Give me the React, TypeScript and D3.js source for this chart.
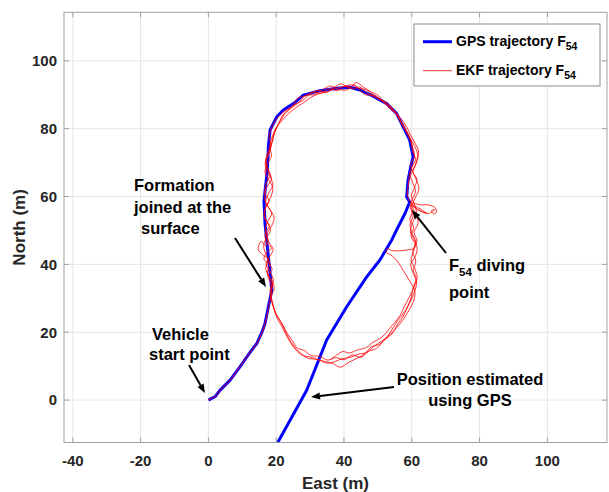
import React from "react";
import * as d3 from "d3";

const X_TICKS = [-40, -20, 0, 20, 40, 60, 80, 100];
const Y_TICKS = [0, 20, 40, 60, 80, 100];

// GPS trajectory F54 (East, North) in metres
const GPS_E = [0.06, 1.1, 2.0, 3.45, 6.4, 9.3, 12.3, 14.3, 15.8, 16.7, 17.7, 18.7, 18.2, 17.7, 17.2, 16.7, 16.4, 17.4, 17.7, 18.2, 20.2, 22.1, 25.1, 28.0, 32.9, 37.8, 41.8, 44.7, 48.6, 52.6, 55.5, 57.5, 59.4, 60.4, 59.7, 58.9, 58.5, 59.4, 58.0, 55.5, 54.1, 50.6, 46.7, 40.8, 34.9, 29.0, 20.5, 19.9];
const GPS_N = [0, 0.6, 1.0, 2.95, 5.9, 9.8, 14.1, 16.7, 20.0, 22.6, 27.5, 32.4, 37.3, 42.2, 47.2, 52.1, 58.9, 67.8, 74.7, 79.6, 83.5, 85.5, 87.4, 89.9, 91.2, 91.9, 92.2, 91.4, 89.6, 87.4, 84.5, 80.5, 76.6, 71.7, 68.8, 64.8, 59.9, 58.4, 55.0, 50.1, 47.2, 41.3, 36.3, 27.5, 17.7, 2.9, -12.4, -13.6];

// EKF trajectory F54 (East, North) in metres, read point by point
const EKF_E = [
  0, 1.2, 2.2, 3.5, 6.4, 9.3, 12.3, 14.4, 15.9, 16.8, 17.8, 18.6,
  18.4, 17.5, 18.8, 17.9, 16.4, 17.2, 18.6, 17.1, 16.8, 18.0, 16.6, 16.9, 17.9, 16.7, 17.3, 18.2, 17.0, 17.6, 18.5, 17.9, 18.7, 20.3, 22.5, 24.8, 26.2, 28.4, 30.9, 33.2, 35.6, 38.1, 40.4, 42.8, 44.6, 46.9, 49.2, 51.8, 53.6, 55.7, 56.9, 58.3, 59.8, 60.2, 61.1, 60.0, 59.3, 59.0, 58.7, 59.5,
  61.5, 63.4, 64.4, 66.8, 67.3, 66.4, 65.8, 66.8, 65.0, 62.6, 60.9, 59.6, 62.0, 64.4, 62.1, 59.8,
  60.2, 59.4, 60.6, 59.8, 60.9, 60.3, 61.2, 60.5, 61.3, 60.4, 59.9, 58.6, 57.4, 55.8, 54.2, 52.0, 49.6, 47.3, 45.0, 42.4, 40.1, 37.6, 35.2, 32.8, 30.4, 28.3, 26.2, 24.9, 23.3, 22.0, 20.6, 19.4, 18.7, 18.2,
  19.2, 18.1, 17.0, 18.3, 19.1, 18.0, 17.2, 18.6, 19.4, 18.1, 16.9, 17.8, 19.0, 18.3, 17.1, 16.8, 17.9, 18.6, 19.4, 20.6, 21.7, 23.3, 25.6, 27.9, 29.8, 32.4, 34.6, 36.9, 39.3, 41.4, 43.7, 45.5, 47.7, 50.2, 52.4, 54.6, 56.3, 57.8, 59.2, 60.6, 61.7, 61.2, 60.3, 61.5, 60.8, 59.9, 60.7,
  61.4, 60.3, 59.6, 60.8, 61.6, 60.9, 59.7, 60.5, 61.4, 60.8, 59.6, 58.2, 56.1, 54.5, 52.7, 50.4, 48.1, 45.9, 43.6, 41.2, 38.9, 36.7, 34.3, 31.7, 29.2, 27.1, 25.0, 23.6, 22.4, 21.1, 19.8, 19.0, 18.3,
  18.9, 18.0, 16.9, 17.6, 15.9, 14.7, 15.6, 16.9, 17.5, 16.8, 17.6, 18.7, 17.2, 16.5, 17.4, 18.6, 17.8, 16.9, 17.7, 18.9, 19.6, 21.2, 22.8, 24.5, 26.8, 28.7, 31.1, 33.8, 36.0, 38.4, 40.8, 43.1, 44.9, 46.3, 48.6, 51.1, 53.3, 55.2, 56.6, 58.0, 59.4, 60.3, 60.8, 59.7, 60.5, 61.6, 62.1, 61.0, 60.2,
  61.3, 61.9, 60.7, 61.5, 60.4, 58.8, 56.5, 54.0, 52.8, 52.5, 53.8, 55.4, 56.9, 58.3, 59.7, 60.9, 60.6, 59.3, 57.7, 55.6, 53.4, 51.3, 48.9, 46.6, 44.4, 41.9, 39.5, 37.2, 35.0, 32.5, 30.0, 27.8, 25.8, 24.2, 22.9, 21.6, 20.3, 19.3, 18.5,
  19.4, 18.6, 17.4, 18.1, 17.2, 16.3, 17.0, 18.3, 17.4, 16.4, 17.1, 18.4, 19.0, 17.9, 16.7, 17.5, 18.6, 18.1, 18.8, 20.0, 21.9, 23.8, 25.9, 28.0, 30.2, 32.6, 35.1, 37.5, 39.8, 42.2, 44.3, 46.2, 48.3, 50.6, 52.8, 54.9, 56.8, 58.5, 59.7, 60.9, 62.0, 61.6, 60.7, 59.6, 60.4, 61.1, 60.1, 59.6,
  60.4, 59.5, 60.1, 61.2, 60.6, 59.8, 60.9, 61.6, 60.7, 59.4, 57.9, 56.6, 54.8, 52.9, 50.9, 48.5, 46.4, 44.0, 41.6, 39.6, 37.8, 36.0,
];
const EKF_N = [
  0, 0.7, 1.2, 3.0, 5.9, 9.8, 14.1, 16.8, 20.1, 22.8, 27.6, 32.2,
  34.5, 36.8, 38.4, 40.2, 41.5, 43.6, 44.8, 46.5, 49.2, 51.4, 53.5, 56.8, 58.6, 61.2, 64.5, 66.3, 68.9, 72.4, 74.8, 77.6, 80.3, 83.1, 85.2, 86.6, 88.9, 89.6, 90.8, 90.4, 91.8, 91.2, 92.6, 91.7, 92.3, 90.4, 89.3, 87.8, 85.9, 84.1, 81.6, 79.2, 76.4, 73.5, 71.0, 68.6, 66.2, 63.5, 60.8, 58.5,
  57.8, 57.5, 57.6, 56.8, 55.4, 54.9, 55.8, 56.2, 55.0, 56.3, 57.2, 57.9, 56.1, 55.0, 55.9, 57.3,
  55.5, 53.2, 51.0, 48.4, 46.1, 43.5, 41.0, 38.2, 35.8, 33.1, 30.4, 27.2, 24.6, 22.3, 19.5, 17.8, 15.2, 14.4, 12.6, 13.3, 11.9, 12.5, 11.8, 12.9, 13.1, 14.6, 15.4, 17.3, 19.6, 22.1, 24.3, 26.8, 29.6, 32.5,
  35.3, 37.9, 40.1, 42.6, 44.5, 46.3, 48.9, 51.2, 53.9, 56.2, 58.4, 61.0, 63.2, 65.7, 67.6, 70.2, 72.6, 75.5, 78.4, 81.2, 83.6, 85.4, 87.2, 88.3, 90.1, 91.3, 90.6, 92.1, 93.2, 92.0, 93.6, 92.4, 91.0, 89.7, 87.1, 85.6, 82.9, 80.6, 77.8, 75.3, 72.5, 69.8, 67.4, 65.1, 62.6, 60.2, 57.9,
  55.0, 52.4, 49.7, 47.2, 44.6, 42.1, 40.0, 37.3, 34.8, 31.9, 29.1, 26.4, 23.8, 21.3, 18.6, 16.4, 15.7, 13.5, 12.2, 11.0, 9.7, 10.8, 11.4, 12.0, 12.4, 13.9, 16.2, 18.4, 20.9, 23.5, 25.6, 28.4, 31.2,
  33.8, 36.2, 38.7, 41.4, 42.9, 44.6, 46.8, 45.4, 47.6, 50.3, 52.8, 55.1, 57.6, 60.4, 63.0, 65.0, 67.8, 70.6, 73.5, 76.1, 79.2, 82.2, 84.7, 86.1, 87.9, 89.8, 90.0, 91.5, 92.6, 91.6, 91.4, 92.8, 91.1, 90.0, 89.8, 88.4, 86.6, 84.7, 82.2, 79.9, 77.0, 74.4, 71.8, 69.4, 66.8, 64.3, 62.0, 59.6, 57.1,
  54.6, 52.1, 49.5, 47.0, 44.6, 44.3, 44.0, 44.1, 44.6, 43.6, 42.8, 41.4, 39.2, 36.9, 34.6, 32.3, 29.4, 26.7, 24.1, 21.4, 19.2, 17.5, 15.9, 14.0, 13.6, 12.6, 12.2, 11.3, 10.9, 11.9, 12.7, 13.2, 14.8, 17.0, 19.3, 21.8, 24.1, 27.0, 30.2,
  33.0, 35.6, 37.4, 40.2, 42.5, 45.2, 47.7, 50.0, 52.4, 54.7, 57.3, 59.8, 62.4, 64.8, 67.2, 69.8, 72.0, 74.9, 77.5, 80.3, 82.6, 84.6, 86.3, 87.6, 89.2, 90.3, 90.9, 91.8, 92.4, 92.9, 91.9, 91.6, 90.3, 88.7, 87.5, 85.2, 83.0, 80.5, 78.0, 75.8, 73.4, 70.6, 68.3, 66.0, 63.8, 61.5, 59.0, 56.8,
  54.3, 51.8, 49.1, 46.7, 44.0, 41.3, 38.7, 36.1, 33.4, 30.6, 27.8, 25.0, 22.7, 20.4, 18.3, 17.0, 15.4, 14.8, 13.9, 14.3, 13.2, 12.0,
];

const W = 609;
const H = 492;
const L = 64, R = 607, T = 12.3, B = 442.5;
const FONT = "'Liberation Sans', Arial, Helvetica, sans-serif";
const AX = "#a0a0a0";
const TXT = "#262626";

export default function App() {
  const x = d3.scaleLinear().domain([-42.6, 117.6]).range([L, R]);
  const y = d3.scaleLinear().domain([-12.5, 114.3]).range([B, T]);

  const gpsPts: [number, number][] = GPS_E.map((e, i) => [e, GPS_N[i]]);
  const ekfPts: [number, number][] = EKF_E.map((e, i) => [e, EKF_N[i]]);
  const line = d3.line<[number, number]>().x((d) => x(d[0])).y((d) => y(d[1]));
  const smooth = d3
    .line<[number, number]>()
    .x((d) => x(d[0]))
    .y((d) => y(d[1]))
    .curve(d3.curveCatmullRom.alpha(0.5));

  const arrow = (x1: number, y1: number, x2: number, y2: number, key: string) => {
    const ang = Math.atan2(y2 - y1, x2 - x1);
    const len = 9, wid = 3.5;
    const bx = x2 - len * Math.cos(ang), by = y2 - len * Math.sin(ang);
    const px = -Math.sin(ang) * wid, py = Math.cos(ang) * wid;
    return (
      <g key={key}>
        <line x1={x1} y1={y1} x2={bx} y2={by} stroke="#000" strokeWidth={2} />
        <polygon points={`${x2},${y2} ${bx + px},${by + py} ${bx - px},${by - py}`} fill="#000" />
      </g>
    );
  };

  return (
    <svg width={W} height={H} style={{ position: "absolute", left: 0, top: 0, background: "#fff" }} fontFamily={FONT}>
      <defs>
        <clipPath id="plotclip">
          <rect x={L} y={T} width={R - L} height={B - T} />
        </clipPath>
      </defs>
      <rect x={L} y={T} width={R - L} height={B - T} fill="#fff" />
      {/* grid */}
      {X_TICKS.map((t) => (
        <line key={"gx" + t} x1={x(t)} x2={x(t)} y1={T} y2={B} stroke="#e6e6e6" strokeWidth={1} />
      ))}
      {Y_TICKS.map((t) => (
        <line key={"gy" + t} x1={L} x2={R} y1={y(t)} y2={y(t)} stroke="#e6e6e6" strokeWidth={1} />
      ))}
      {/* data */}
      <g clipPath="url(#plotclip)">
        <path d={line(gpsPts) || ""} fill="none" stroke="#0000ff" strokeWidth={3} strokeLinejoin="round" />
        <path d={smooth(ekfPts) || ""} fill="none" stroke="#ff0000" strokeWidth={0.8} strokeLinejoin="round" />
      </g>
      {/* box */}
      <rect x={L} y={T} width={R - L} height={B - T} fill="none" stroke={AX} strokeWidth={1} />
      {X_TICKS.map((t) => (
        <g key={"tx" + t}>
          <line x1={x(t)} x2={x(t)} y1={B} y2={B - 5} stroke={AX} />
          <line x1={x(t)} x2={x(t)} y1={T} y2={T + 5} stroke={AX} />
          <text x={x(t)} y={466} textAnchor="middle" fontSize={15} fontWeight="bold" fill={TXT}>
            {t}
          </text>
        </g>
      ))}
      {Y_TICKS.map((t) => (
        <g key={"ty" + t}>
          <line x1={L} x2={L + 5} y1={y(t)} y2={y(t)} stroke={AX} />
          <line x1={R} x2={R - 5} y1={y(t)} y2={y(t)} stroke={AX} />
          <text x={57} y={y(t) + 5.3} textAnchor="end" fontSize={15} fontWeight="bold" fill={TXT}>
            {t}
          </text>
        </g>
      ))}
      <text x={(L + R) / 2} y={489} textAnchor="middle" fontSize={17} fontWeight="bold" fill={TXT}>
        East (m)
      </text>
      <text
        transform={`translate(25, ${(T + B) / 2}) rotate(-90)`}
        textAnchor="middle"
        fontSize={17}
        fontWeight="bold"
        fill={TXT}
      >
        North (m)
      </text>

      {/* legend */}
      <rect x={414} y={24} width={186} height={62} fill="#fff" stroke="#8c8c8c" strokeWidth={1} />
      <line x1={423} x2={452} y1={41.7} y2={41.7} stroke="#0000ff" strokeWidth={3} />
      <line x1={423} x2={452} y1={70.7} y2={70.7} stroke="#ff0000" strokeWidth={0.8} />
      <text x={456} y={45.5} fontSize={14} fontWeight="bold" fill="#000">
        GPS trajectory F<tspan fontSize={10.5} dy={4}>54</tspan>
      </text>
      <text x={456} y={74.5} fontSize={14} fontWeight="bold" fill="#000">
        EKF trajectory F<tspan fontSize={10.5} dy={4}>54</tspan>
      </text>

      {/* annotations */}
      <g fontSize={16.5} fontWeight="bold" fill="#000">
        <text x={134} y={191}>Formation</text>
        <text x={134} y={213}>joined at the</text>
        <text x={141} y={234}>surface</text>
        <text x={152} y={340}>Vehicle</text>
        <text x={149} y={360}>start point</text>
        <text x={449} y={271}>
          F<tspan fontSize={11.5} dy={5}>54</tspan>
          <tspan dy={-5}> diving</tspan>
        </text>
        <text x={449} y={298}>point</text>
        <text x={470} y={385} textAnchor="middle">Position estimated</text>
        <text x={470} y={406} textAnchor="middle">using GPS</text>
      </g>
      {arrow(235, 238, 266, 287, "a1")}
      {arrow(189, 365, 205, 393, "a2")}
      {arrow(446, 253, 412, 210, "a3")}
      {arrow(394, 387, 311, 397, "a4")}
    </svg>
  );
}
